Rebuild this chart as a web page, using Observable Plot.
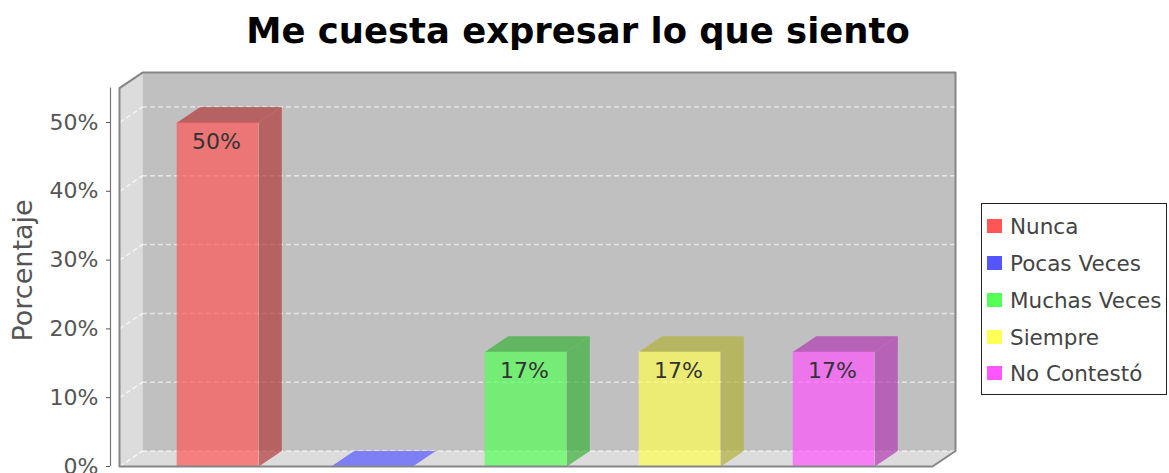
<!DOCTYPE html>
<html><head><meta charset="utf-8">
<script src="https://cdn.jsdelivr.net/npm/d3@7"></script>
<script src="https://cdn.jsdelivr.net/npm/@observablehq/plot@0.6"></script>
<style>
body{margin:0;background:#fff;}
#wrap{position:relative;width:1169px;height:473px;overflow:hidden;font-family:"DejaVu Sans",sans-serif;}
#title{height:62px;line-height:62px;text-align:center;font-weight:bold;font-size:35.4px;color:#000;padding-right:13px;white-space:nowrap;}
#chart svg{display:block;}
#legend{position:absolute;left:981px;top:203px;width:184px;height:190px;border:1.5px solid #222;background:#fff;}
.item{position:absolute;left:5px;height:24px;display:flex;align-items:center;font-size:21.5px;color:#444;white-space:nowrap;}
.sw{width:15px;height:14px;margin-right:8px;flex:none;}
</style></head>
<body><div id="wrap"><div id="title"></div><div id="chart"></div><div id="legend"></div></div>
<script>
// ---- data ----
const titleText = "Me cuesta expresar lo que siento";
const yAxisTitle = "Porcentaje";
const categories = ["Nunca", "Pocas Veces", "Muchas Veces", "Siempre", "No Contestó"];
const percentages = [50, 0, 16.67, 16.67, 16.67];
const barLabels = ["50%", "", "17%", "17%", "17%"];
const seriesColors = ["#ff5555", "#5555ff", "#55ff55", "#ffff55", "#ff55ff"];
const darkColors = ["#b23b3b", "#3b3bb2", "#3bb23b", "#b2b23b", "#b23bb2"];
const yTicks = [0, 10, 20, 30, 40, 50];
const yTickLabels = ["0%", "10%", "20%", "30%", "40%", "50%"];

// ---- geometry (in scale units) ----
const X0 = -0.6396, X1 = 4.789, D = 0.1494, DY = 2.25, HW = 0.265, YMAX = 55;

document.getElementById("title").textContent = titleText;

const idx = d3.range(categories.length);
function poly(id, fill, op, pts) { return pts.map(([x, y]) => ({id, fill, op, x, y})); }

const walls = [
  ...poly("left", "#dcdcdc", 1, [[X0, 0], [X0, YMAX], [X0 + D, YMAX + DY], [X0 + D, DY]]),
  ...poly("floor", "#dcdcdc", 1, [[X0, 0], [X1 - D, 0], [X1, DY], [X0 + D, DY]]),
  ...poly("back", "#c0c0c0", 1, [[X0 + D, DY], [X1, DY], [X1, YMAX + DY], [X0 + D, YMAX + DY]])
];
const frame = poly("frame", "none", 1, [[X0, 0], [X0, YMAX], [X0 + D, YMAX + DY], [X1, YMAX + DY], [X1, DY], [X1 - D, 0]]);

const faces = idx.flatMap(i => {
  const v = percentages[i];
  return [
    ...poly("side" + i, darkColors[i], 0.7, [[i + HW, 0], [i + HW, v], [i + HW + D, v + DY], [i + HW + D, DY]]),
    ...poly("top" + i, v > 0 ? darkColors[i] : seriesColors[i], 0.7, [[i - HW, v], [i + HW, v], [i + HW + D, v + DY], [i - HW + D, v + DY]])
  ];
});

const chart = Plot.plot({
  width: 1169, height: 411,
  marginLeft: 119, marginRight: 214, marginTop: 25.6, marginBottom: 7,
  style: {fontFamily: "DejaVu Sans", color: "#555", background: "transparent", overflow: "visible"},
  x: {type: "linear", domain: [X0, X1], range: [119, 955], axis: null},
  y: {type: "linear", domain: [0, YMAX], range: [404, 25.6], axis: null},
  color: {type: "identity"},
  marks: [
    Plot.line(walls, {x: "x", y: "y", z: "id", fill: "fill", stroke: "none", curve: "linear-closed"}),
    Plot.ruleY(yTicks, {y: d => d + DY, x1: X0 + D, x2: X1, stroke: "#ffffff", strokeOpacity: 0.6, strokeWidth: 1.5, strokeDasharray: "5,3"}),
    Plot.link(yTicks, {x1: X0, y1: d => d, x2: X0 + D, y2: d => d + DY, stroke: "#ffffff", strokeOpacity: 0.7, strokeWidth: 1.5, strokeDasharray: "5,3"}),
    Plot.rect(idx, {x1: i => i - HW, x2: i => i + HW, y1: 0, y2: i => percentages[i], fill: i => seriesColors[i], fillOpacity: 0.7}),
    Plot.line(faces, {x: "x", y: "y", z: "id", fill: "fill", fillOpacity: 0.7, stroke: "none", curve: "linear-closed"}),
    Plot.line(frame, {x: "x", y: "y", curve: "linear-closed", fill: "none", stroke: "#858585", strokeWidth: 2}),
    Plot.ruleX([X0], {y1: 0, y2: YMAX, dx: -9, stroke: "#777", strokeWidth: 1.2}),
    Plot.axisY(yTicks, {tickSize: 4, tickPadding: 8, dx: -9, fontSize: 22, label: null,
      tickFormat: d => yTickLabels[yTicks.indexOf(d)]}),
    Plot.text([yAxisTitle], {x: X0, y: 28.5, rotate: -90, textAnchor: "middle", lineAnchor: "middle", dx: -96, fontSize: 27, fill: "#555", text: d => d}),
    Plot.text(idx, {x: i => i, y: i => percentages[i], text: i => barLabels[i], dx: -1.5, dy: 19, fontSize: 22, fill: "#333"})
  ]
});
document.getElementById("chart").appendChild(chart);

const legend = document.getElementById("legend");
const rowCenters = [22, 59, 96, 133, 169];
categories.forEach((c, i) => {
  const it = document.createElement("div");
  it.className = "item";
  it.style.top = (rowCenters[i] - 12) + "px";
  const sw = document.createElement("div");
  sw.className = "sw";
  sw.style.background = seriesColors[i];
  const tx = document.createElement("span");
  tx.textContent = c;
  it.appendChild(sw); it.appendChild(tx);
  legend.appendChild(it);
});
</script>
</body></html>
